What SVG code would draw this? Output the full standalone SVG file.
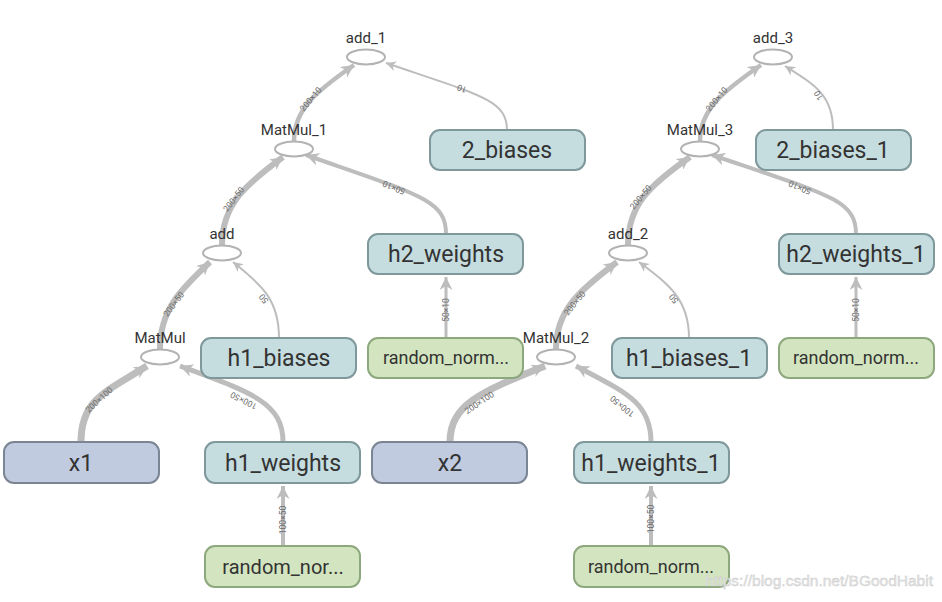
<svg xmlns="http://www.w3.org/2000/svg" width="942" height="602" viewBox="0 0 942 602">
<style>
  text { font-family: Roboto, "Liberation Sans", sans-serif; }
  .blue rect { fill: #c0cbe0; stroke: #7b8594; stroke-width: 2; }
  .teal rect { fill: #c6dde0; stroke: #7f989b; stroke-width: 2; }
  .green rect { fill: #d3e5c0; stroke: #8ea87e; stroke-width: 2; }
  .big { font-size: 23px; fill: #333; text-anchor: middle; }
  .mid { font-size: 18px; fill: #333; text-anchor: middle; }
  .op ellipse { fill: #fff; stroke: #b3b3b3; stroke-width: 2; }
  .op text { font-size: 15px; fill: #333; text-anchor: middle; }
  .edge { fill: none; stroke: #bdbdbd; }
  .el { font-size: 8.5px; fill: #6a6a6a; text-anchor: middle; }
</style>
<defs>
  <marker id="ah" markerUnits="userSpaceOnUse" viewBox="0 0 10 10" refX="10" refY="5" markerWidth="13" markerHeight="13" orient="auto">
    <path d="M0,0 L10,5 L0,10 L3,5 z" fill="#bdbdbd"/>
  </marker>
  <marker id="as" markerUnits="userSpaceOnUse" viewBox="0 0 10 10" refX="10" refY="5" markerWidth="10" markerHeight="10" orient="auto">
    <path d="M0,0 L10,5 L0,10 L3,5 z" fill="#bdbdbd"/>
  </marker>
</defs>

<g id="connectors">
  <path class="edge" stroke-width="7" marker-end="url(#ah)" d="M81 442 C81 400 105 392 147 366"/>
  <path class="edge" stroke-width="5" marker-end="url(#ah)" d="M283 442 C283 402 250 392 180 366"/>
  <path class="edge" stroke-width="4" marker-end="url(#ah)" d="M283 546 L283 486"/>
  <path class="edge" stroke-width="6" marker-end="url(#ah)" d="M160 349 C160 310 180 290 210 262"/>
  <path class="edge" stroke-width="2" marker-end="url(#as)" d="M279 338 C279 300 262 285 233 262"/>
  <path class="edge" stroke-width="6" marker-end="url(#ah)" d="M222 245 C222 205 245 185 283 157"/>
  <path class="edge" stroke-width="4" marker-end="url(#ah)" d="M446 234 C446 200 420 195 306 155"/>
  <path class="edge" stroke-width="3" marker-end="url(#ah)" d="M446 338 L446 277"/>
  <path class="edge" stroke-width="4.5" marker-end="url(#ah)" d="M294 141 C294 110 315 92 354 65"/>
  <path class="edge" stroke-width="2" marker-end="url(#as)" d="M507 130 C507 100 480 95 386 63"/>

  <path class="edge" stroke-width="7" marker-end="url(#ah)" d="M450 442 C450 405 480 392 545 366"/>
  <path class="edge" stroke-width="5" marker-end="url(#ah)" d="M651 442 C651 402 625 392 576 366"/>
  <path class="edge" stroke-width="4" marker-end="url(#ah)" d="M651 546 L651 486"/>
  <path class="edge" stroke-width="6" marker-end="url(#ah)" d="M556 349 C556 310 580 290 617 262"/>
  <path class="edge" stroke-width="2" marker-end="url(#as)" d="M689 338 C689 300 670 285 639 262"/>
  <path class="edge" stroke-width="6" marker-end="url(#ah)" d="M628 245 C628 205 650 185 690 157"/>
  <path class="edge" stroke-width="4" marker-end="url(#ah)" d="M856 234 C856 200 830 195 712 155"/>
  <path class="edge" stroke-width="3" marker-end="url(#ah)" d="M856 338 L856 277"/>
  <path class="edge" stroke-width="4.5" marker-end="url(#ah)" d="M700 141 C700 110 722 92 761 65"/>
  <path class="edge" stroke-width="2" marker-end="url(#as)" d="M833 130 C833 95 815 85 785 66"/>

  <text class="el" transform="translate(101,402) rotate(-42)">200×100</text>
  <text class="el" transform="translate(245,398) rotate(207)">100×50</text>
  <text class="el" transform="translate(286,520) rotate(-90)">100×50</text>
  <text class="el" transform="translate(176,306) rotate(-53)">200×50</text>
  <text class="el" transform="translate(266,297) rotate(231)">50</text>
  <text class="el" transform="translate(236,201) rotate(-52)">200×50</text>
  <text class="el" transform="translate(395,185) rotate(203)">50×10</text>
  <text class="el" transform="translate(449,310) rotate(-90)">50×10</text>
  <text class="el" transform="translate(313,101) rotate(-50)">200×10</text>
  <text class="el" transform="translate(463,86) rotate(203)">10</text>

  <text class="el" transform="translate(481,405) rotate(-34)">200×100</text>
  <text class="el" transform="translate(624,404) rotate(219)">100×50</text>
  <text class="el" transform="translate(654,519) rotate(-90)">100×50</text>
  <text class="el" transform="translate(577,305) rotate(-51)">200×50</text>
  <text class="el" transform="translate(676,297) rotate(231)">50</text>
  <text class="el" transform="translate(643,199) rotate(-50)">200×50</text>
  <text class="el" transform="translate(801,185) rotate(203)">50×10</text>
  <text class="el" transform="translate(859,310) rotate(-90)">50×10</text>
  <text class="el" transform="translate(719,101) rotate(-50)">200×10</text>
  <text class="el" transform="translate(821,94) rotate(238)">10</text>
</g>

<g id="x1" class="blue"><rect x="4" y="442" width="155" height="41" rx="10"/><text class="big" x="81" y="471">x1</text></g>
<g id="h1_weights" class="teal"><rect x="205" y="442" width="155" height="41" rx="10"/><text class="big" x="283" y="471">h1_weights</text></g>
<g id="random_normal" class="green"><rect x="205" y="546" width="155" height="41" rx="10"/><text class="mid" x="283" y="574" style="font-size:20px">random_nor...</text></g>
<g id="h1_biases" class="teal"><rect x="201" y="338" width="155" height="40" rx="10"/><text class="big" x="279" y="366">h1_biases</text></g>
<g id="random_normal_1" class="green"><rect x="368" y="338" width="155" height="40" rx="10"/><text class="mid" x="446" y="364">random_norm...</text></g>
<g id="h2_weights" class="teal"><rect x="368" y="234" width="155" height="40" rx="10"/><text class="big" x="446" y="262">h2_weights</text></g>
<g id="2_biases" class="teal"><rect x="430" y="130" width="155" height="40" rx="10"/><text class="big" x="507" y="158">2_biases</text></g>

<g id="x2" class="blue"><rect x="372" y="442" width="155" height="41" rx="10"/><text class="big" x="450" y="471">x2</text></g>
<g id="h1_weights_1" class="teal"><rect x="574" y="442" width="155" height="41" rx="10"/><text class="big" x="651" y="471">h1_weights_1</text></g>
<g id="random_normal_2" class="green"><rect x="574" y="546" width="155" height="41" rx="10"/><text class="mid" x="651" y="573">random_norm...</text></g>
<g id="h1_biases_1" class="teal"><rect x="612" y="338" width="155" height="40" rx="10"/><text class="big" x="689" y="366">h1_biases_1</text></g>
<g id="random_normal_3" class="green"><rect x="779" y="338" width="155" height="40" rx="10"/><text class="mid" x="856" y="364">random_norm...</text></g>
<g id="h2_weights_1" class="teal"><rect x="779" y="234" width="155" height="40" rx="10"/><text class="big" x="856" y="262">h2_weights_1</text></g>
<g id="2_biases_1" class="teal"><rect x="756" y="130" width="155" height="40" rx="10"/><text class="big" x="833" y="158">2_biases_1</text></g>

<g id="MatMul" class="op"><ellipse cx="160" cy="357" rx="19" ry="7.5"/><text x="160" y="343">MatMul</text></g>
<g id="add" class="op"><ellipse cx="222" cy="253" rx="19" ry="7.5"/><text x="222" y="239">add</text></g>
<g id="MatMul_1" class="op"><ellipse cx="294" cy="149" rx="19" ry="7.5"/><text x="294" y="135">MatMul_1</text></g>
<g id="add_1" class="op"><ellipse cx="366" cy="57" rx="19" ry="7.5"/><text x="366" y="43">add_1</text></g>
<g id="MatMul_2" class="op"><ellipse cx="556" cy="357" rx="19" ry="7.5"/><text x="556" y="343">MatMul_2</text></g>
<g id="add_2" class="op"><ellipse cx="628" cy="253" rx="19" ry="7.5"/><text x="628" y="239">add_2</text></g>
<g id="MatMul_3" class="op"><ellipse cx="700" cy="149" rx="19" ry="7.5"/><text x="700" y="135">MatMul_3</text></g>
<g id="add_3" class="op"><ellipse cx="773" cy="57" rx="19" ry="7.5"/><text x="773" y="43">add_3</text></g>

<text x="933" y="586" text-anchor="end" style="font-family:'Liberation Sans',Arial,sans-serif;font-size:15.5px;fill:#e6e6e6;stroke:#c8c8c8;stroke-width:0.4">https://blog.csdn.net/BGoodHabit</text>
</svg>
